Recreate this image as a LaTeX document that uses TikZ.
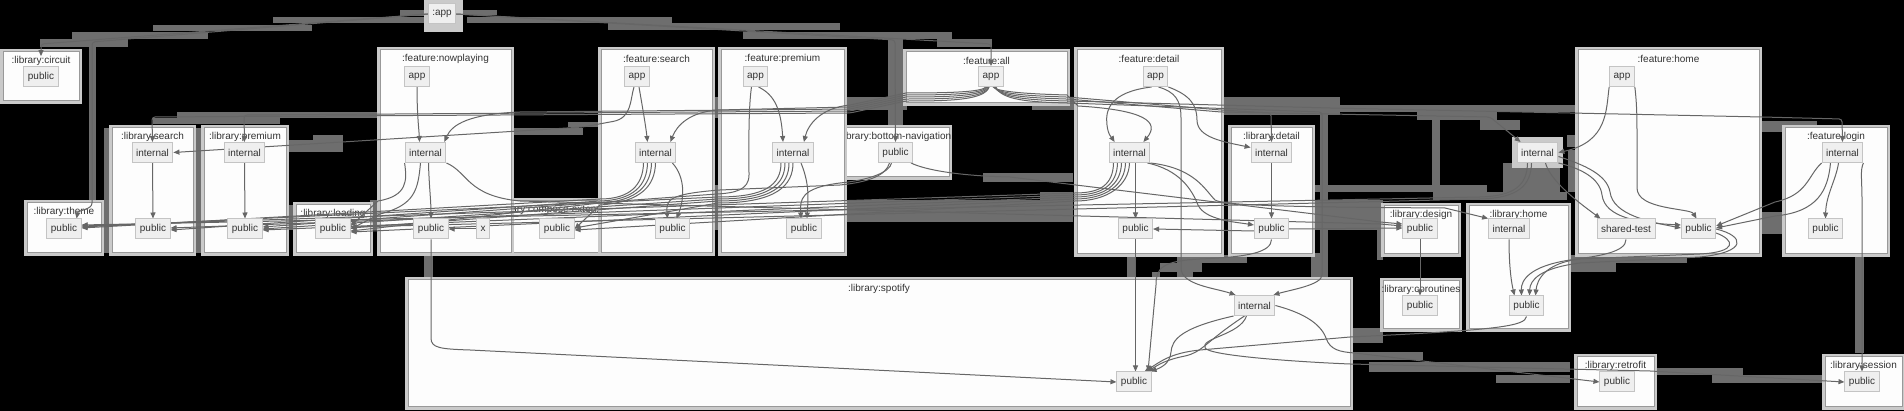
\documentclass[tikz,border=0pt]{standalone}
\usepackage{fontspec}
\setmainfont{Liberation Sans}
\usetikzlibrary{arrows.meta}
\definecolor{clfill}{HTML}{FDFDFD}
\definecolor{cldraw}{HTML}{999999}
\definecolor{clout}{HTML}{CACACA}
\definecolor{ndfill}{HTML}{EFEFEF}
\definecolor{nddraw}{HTML}{C4C4C4}
\definecolor{txt}{HTML}{333333}
\definecolor{edg}{HTML}{666666}
\definecolor{bandc}{HTML}{6E6E6E}
\pgfdeclarelayer{back}
\pgfdeclarelayer{mid}
\pgfsetlayers{back,mid,main}
\tikzset{
 nd/.style={draw=nddraw, fill=ndfill, text=txt, minimum height=20pt, inner xsep=4pt, inner ysep=0pt, line width=1pt},
 ct/.style={text=txt, inner sep=0pt},
 e/.style={draw=edg, line width=1pt, -{Triangle[length=6pt,width=5pt]}},
 clus/.style={fill=clfill, draw=cldraw, line width=1pt},
 band/.style={fill=bandc},
}
\newcommand\mkclus[6]{%
 \fill[clout] ({#2-3},{#3-3}) rectangle ({#4+3},{#5+3});
 \filldraw[clus] (#2,#3) rectangle (#4,#5);
 \node[ct] (#1) at ({(#2+#4)/2},{#3+9}) {#6};
}
\begin{document}
\begin{tikzpicture}[x=1pt,y=-1pt,font=\fontsize{10}{12}\selectfont]
\useasboundingbox (0,0) rectangle (1904,411);
\begin{pgfonlayer}{back}
\fill[black] (0,0) rectangle (1904,411);
% ---- bands (label backgrounds)
\foreach \a/\b/\c/\d in {400/10/428/16, 273/17/427/23, 153/25/312/31, 72/32/208/39, 40/39/128/47, 89/40/96/203,
 457/10/497/15, 467/17/672/23, 608/23/840/30, 743/32/952/39, 937/39/992/47, 888/39/903/128,
 177/112/377/118, 153/118/280/124, 287/140/343/152, 313/135/343/140, 510/128/583/135, 568/122/605/127,
 104/128/112/253, 193/128/202/253, 287/205/296/230, 370/200/380/230, 712/97/721/118, 712/185/721/230,
 840/97/907/110, 1032/97/1077/110, 840/200/1073/222, 983/173/1073/182, 1040/192/1073/200,
 1223/97/1340/115, 1300/105/1577/112, 1417/112/1497/120, 1480/120/1520/130, 1320/100/1328/260,
 1432/120/1440/190, 1313/185/1487/192, 1433/192/1567/200, 1503/163/1560/193, 1567/135/1578/147,
 1300/200/1383/230, 1377/200/1383/260, 1855/253/1864/353, 1568/255/1687/263, 1568/263/1616/272,
 1352/328/1383/343, 1352/352/1423/360, 1369/362/1570/372, 1496/375/1570/383, 1654/368/1743/375,
 1712/375/1824/383, 1127/253/1135/280, 1152/272/1160/280, 1160/263/1202/272, 1177/253/1193/280,
 1185/255/1247/263, 1311/253/1328/280, 424/253/433/280, 1762/212/1784/234, 1762/121/1817/132,
 1802/132/1846/139, 1568/150/1579/192}
 {\fill[band] (\a,\b) rectangle (\c,\d);}
% ---- clusters
\mkclus{tcirc}{3}{52}{79}{101}{:library:circuit}
\mkclus{tcomp}{440}{201}{675}{253}{:library:compose-extensions}
\mkclus{tbn}{841}{128}{949}{177}{:library:bottom-navigation}
\mkclus{ttheme}{27}{203}{101}{253}{:library:theme}
\mkclus{tlsearch}{112}{128}{193}{253}{:library:search}
\mkclus{tlprem}{204}{128}{286}{253}{:library:premium}
\mkclus{tload}{296}{205}{370}{253}{:library:loading}
\mkclus{tnp}{380}{50}{511}{253}{:feature:nowplaying}
\mkclus{tfs}{601}{50}{712}{253}{:feature:search}
\mkclus{tfp}{721}{50}{844}{253}{:feature:premium}
\mkclus{tfa}{906}{52}{1067}{103}{:feature:all}
\mkclus{tfd}{1077}{50}{1221}{254}{:feature:detail}
\mkclus{tld}{1231}{128}{1312}{254}{:library:detail}
\mkclus{tsp}{408}{280}{1350}{407}{:library:spotify}
\mkclus{tdes}{1384}{206}{1458}{254}{:library:design}
\mkclus{tcor}{1383}{281}{1459}{329}{:library:coroutines}
\mkclus{thome}{1469}{206}{1568}{329}{:library:home}
\mkclus{tfh}{1578}{50}{1759}{254}{:feature:home}
\mkclus{tlog}{1785}{128}{1887}{254}{:feature:login}
\mkclus{tretro}{1577}{357}{1654}{407}{:library:retrofit}
\mkclus{tsess}{1825}{357}{1902}{407}{:library:session}
\fill[clout] (424,0) rectangle (463,32);
\fill[clout] (1512,137) rectangle (1563,168);
\end{pgfonlayer}
% ---- nodes
\begin{scope}[every node/.style={nd}]
\node (app0) at (442,14) {:app};
\node (cpub) at (41,77) {public};
\node (thpub) at (64,229) {public};
\node (lsi) at (152.5,152.5) {internal};
\node (lsp) at (153,229) {public};
\node (lpi) at (244.5,152.5) {internal};
\node (lpp) at (245,229) {public};
\node (ldgp) at (333,229) {public};
\node (npa) at (417,76.5) {app};
\node (npi) at (425.5,152.5) {internal};
\node (npp) at (431,229) {public};
\node (xn) at (483,229) {x};
\node (cxp) at (557,229) {public};
\node (fsa) at (637,76.5) {app};
\node (fsi) at (655.5,152.5) {internal};
\node (fsp) at (672.5,229) {public};
\node (fpa) at (755.5,76.5) {app};
\node (fpi) at (793,152.5) {internal};
\node (fpp) at (804,229) {public};
\node (bnp) at (895.5,152.5) {public};
\node (faa) at (991,76.5) {app};
\node (fda) at (1155.5,76.5) {app};
\node (fdi) at (1129.5,152.5) {internal};
\node (fdp) at (1135.5,229) {public};
\node (ldi) at (1271.5,152.5) {internal};
\node (ldp) at (1271.5,229) {public};
\node (spi) at (1254.5,305.5) {internal};
\node (spp) at (1134,382) {public};
\node (dsp) at (1420,229) {public};
\node (crp) at (1420,306) {public};
\node (hmi) at (1509,229) {internal};
\node (hmp) at (1526.5,306) {public};
\node (xi) at (1537.5,152.5) {internal};
\node (fha) at (1622,76.5) {app};
\node (sht) at (1626,229) {shared-test};
\node (fhp) at (1698.5,229) {public};
\node (lgi) at (1842.5,152.5) {internal};
\node (lgp) at (1825.5,229) {public};
\node (rfp) at (1617,382) {public};
\node (ssp) at (1862,382) {public};
\end{scope}
% ---- edges
\begin{pgfonlayer}{mid}
\draw[e, rounded corners=3pt] (app0.west) -- (41,44) -- (tcirc.north);
\draw[e, rounded corners=3pt] (app0.west) -- (92,42) -- (92,200) .. controls (92,210) and (78,210) .. ([xshift=-5pt]thpub.north east);
\draw[e, rounded corners=3pt] (app0.east) -- (991,44) -- (faa.north);
\draw[e, rounded corners=3pt] (app0.east) -- (895,40) -- (bnp.north);
% feature:all left fan
\draw[e, rounded corners=3pt] ([xshift=-2pt]faa.south) .. controls (985,100) and (950,101) .. (906,101) -- (850,113) -- (152,117) -- (lsi.north);
\draw[e, rounded corners=3pt] ([xshift=-2pt]faa.south) .. controls (985,98) and (950,99) .. (906,99) -- (850,111) -- (244,115) -- (lpi.north);
\draw[e] ([xshift=-3pt]faa.south) .. controls (984,96) and (950,97) .. (906,97) -- (850,109) -- (520,112) .. controls (470,114) and (452,124) .. ([xshift=-2pt]npi.north east);
\draw[e] ([xshift=-4pt]faa.south) .. controls (983,94) and (950,95) .. (906,95) -- (850,107) -- (718,110) .. controls (690,112) and (677,125) .. ([xshift=-6pt]fsi.north east);
\draw[e] ([xshift=-5pt]faa.south) .. controls (982,92) and (950,93) .. (906,93) -- (850,105) .. controls (820,108) and (808,125) .. ([xshift=-10pt]fpi.north east);
% feature:all right fan
\draw[e] ([xshift=2pt]faa.south) .. controls (997,92) and (1030,94) .. (1067,95) -- (1078,106) .. controls (1145,110) and (1160,122) .. ([xshift=-7pt]fdi.north east);
\draw[e, rounded corners=3pt] ([xshift=3pt]faa.south) .. controls (998,94) and (1030,96) .. (1067,97) -- (1221,110) -- (1271,113) -- (ldi.north);
\draw[e, rounded corners=3pt] ([xshift=3pt]faa.south) .. controls (999,96) and (1030,98) .. (1067,99) -- (1221,112) -- (1490,117) -- ([xshift=4pt]xi.north west);
\draw[e, rounded corners=3pt] ([xshift=4pt]faa.south) .. controls (1000,98) and (1030,100) .. (1067,101) -- (1330,108) -- (1762,117) -- (1842,119) -- (lgi.north);
\draw[e, rounded corners=3pt] ([xshift=5pt]faa.south) .. controls (1001,100) and (1030,102) .. (1067,103) -- (1322,112) -- (1322,272) .. controls (1322,285) and (1290,290) .. ([xshift=-2pt]spi.north east);
% feature:detail app
\draw[e] ([xshift=-4pt]fda.south) .. controls (1110,92) and (1105,110) .. (1107,125) .. controls (1108,135) and (1112,138) .. ([xshift=6pt]fdi.north west);
\draw[e] ([xshift=3pt]fda.south) .. controls (1175,92) and (1181,100) .. (1181,118) -- (1181,268) .. controls (1181,285) and (1215,288) .. ([xshift=2pt]spi.north west);
\draw[e] (fda.south east) .. controls (1190,95) and (1197,105) .. (1197,120) .. controls (1197,138) and (1225,142) .. ([yshift=5pt]ldi.west);
% app -> internal inside features
\draw[e] (npa.south) .. controls (417,115) and (419,130) .. ([xshift=-6pt]npi.north);
\draw[e] ([xshift=2pt]fsa.south) .. controls (643,110) and (646,128) .. ([xshift=-8pt]fsi.north);
\draw[e, rounded corners=3pt] ([xshift=-3pt]fsa.south) .. controls (630,100) and (632,118) .. (610,122) -- (583,127) -- (lsi.east);
\draw[e] ([xshift=3pt]fpa.south) .. controls (775,95) and (781,110) .. ([xshift=-10pt]fpi.north);
\draw[e] ([xshift=-4pt]fpa.south) .. controls (748,110) and (749,160) .. (749,175) .. controls (749,190) and (735,193) .. (717,194) -- ([yshift=2pt]lpp.east);
% nowplaying internal
\draw[e] (npi.south west) .. controls (407,180) and (408,196) .. (378,201) -- ([yshift=3pt]ldgp.east);
\draw[e] ([xshift=-5pt]npi.south) .. controls (418,190) and (415,205) .. (380,214) -- ([yshift=0pt]ldgp.east);
\draw[e] ([xshift=3pt]npi.south) .. controls (429,185) and (431,200) .. (npp.north);
\draw[e] (npi.south east) .. controls (468,172) and (467,196) .. (520,201) -- (1380,224) -- ([yshift=3pt]dsp.west);
% search internal
\draw[e] ([xshift=-12pt]fsi.south) .. controls (643,185) and (630,199) .. (600,199) -- ([yshift=1pt]thpub.east);
\draw[e] ([xshift=-8pt]fsi.south) .. controls (647,185) and (634,200) .. (600,201) -- ([yshift=-1pt]lsp.east);
\draw[e] ([xshift=-4pt]fsi.south) .. controls (651,185) and (638,201) .. (600,203) -- ([yshift=-2pt]ldgp.east);
\draw[e] (fsi.south) .. controls (655,185) and (642,202) .. (600,205) -- (cxp.east);
\draw[e] ([xshift=-4pt]fsi.south east) .. controls (686,178) and (684,200) .. ([xshift=4pt]fsp.north);
% premium internal
\draw[e] ([xshift=-12pt]fpi.south) .. controls (781,185) and (765,197) .. (718,197) -- ([yshift=2pt]thpub.east);
\draw[e] ([xshift=-8pt]fpi.south) .. controls (785,185) and (769,199) .. (718,199) -- (lpp.east);
\draw[e] ([xshift=-4pt]fpi.south) .. controls (789,185) and (773,201) .. (718,201) -- ([yshift=1pt]ldgp.east);
\draw[e] (fpi.south) .. controls (793,185) and (777,203) .. (718,203) -- ([yshift=1pt]cxp.east);
\draw[e] ([xshift=8pt]fpi.south) .. controls (810,185) and (808,200) .. ([xshift=3pt]fpp.north);
% bottom navigation
\draw[e] ([xshift=-4pt]bnp.south) .. controls (890,172) and (870,180) .. (840,183) .. controls (800,188) and (800,200) .. ([xshift=-3pt]fpp.north);
\draw[e] ([xshift=-6pt]bnp.south) .. controls (886,175) and (870,182) .. (840,185) -- (720,190) .. controls (668,194) and (666,200) .. ([xshift=-5pt]fsp.north);
\draw[e] ([xshift=-2pt]bnp.south east) .. controls (925,170) and (960,176) .. (1010,177) -- (1380,222) -- ([yshift=5pt]dsp.west);
% detail internal
\draw[e] ([xshift=-16pt]fdi.south) .. controls (1113,185) and (1100,193) .. (1075,193) -- ([yshift=3pt]thpub.east);
\draw[e] ([xshift=-12pt]fdi.south) .. controls (1117,185) and (1102,195) .. (1075,195) -- ([yshift=1pt]lsp.east);
\draw[e] ([xshift=-8pt]fdi.south) .. controls (1121,185) and (1104,197) .. (1075,197) -- ([yshift=-1pt]lpp.east);
\draw[e] ([xshift=-4pt]fdi.south) .. controls (1125,185) and (1106,199) .. (1075,199) -- ([yshift=-3pt]ldgp.east);
\draw[e] (fdi.south) .. controls (1129,185) and (1108,201) .. (1075,201) -- ([yshift=-1pt]cxp.east);
\draw[e] ([xshift=6pt]fdi.south) -- (fdp.north);
\draw[e] ([xshift=-3pt]fdi.south east) .. controls (1180,170) and (1192,190) .. (1198,205) .. controls (1205,220) and (1235,222) .. ([yshift=4pt]ldp.west);
\draw[e] (fdi.south east) .. controls (1195,168) and (1205,190) .. (1215,200) .. controls (1225,206) and (1300,207) .. (1445,208) -- (hmi.north west);
% library detail
\draw[e] (ldi.south) -- (ldp.north);
\draw[e] ([yshift=-2pt]ldp.west) -- (fdp.east);
\draw[e] (ldp.east) -- ([yshift=1pt]dsp.west);
\draw[e] (ldp.south) .. controls (1271,252) and (1250,257) .. (1200,259) .. controls (1162,261) and (1156,268) .. (1156,285) -- ([xshift=14pt]spp.north);
\draw[e] (fdp.south) -- ([xshift=1.5pt]spp.north);
\draw[e] (npp.south) -- (431,338) .. controls (431,348) and (440,349) .. (470,350) -- (spp.west);
% spotify
\draw[e] (spi.south west) .. controls (1180,328) and (1172,340) .. (1171,352) .. controls (1170,364) and (1160,368) .. ([xshift=-1pt]spp.north east);
\draw[e] ([xshift=-10pt]spi.south) .. controls (1205,342) and (1203,352) .. (1185,356) .. controls (1165,360) and (1158,365) .. ([xshift=-4pt]spp.north east);
\draw[e] (hmp.south) .. controls (1525,326) and (1500,330) .. (1350,337) -- (1200,350) .. controls (1170,353) and (1160,362) .. ([xshift=-7pt]spp.north east);
\draw[e] (spi.east) .. controls (1300,312) and (1320,322) .. (1326,338) .. controls (1330,350) and (1340,352) .. (1355,353) -- (rfp.west);
\draw[e] ([xshift=-8pt]spi.south) .. controls (1240,335) and (1200,338) .. (1205,348) .. controls (1210,356) and (1300,362) .. (1350,364) -- (1650,371) -- (ssp.west);
% design / home
\draw[e] (dsp.south) -- (crp.north);
\draw[e] (hmi.south) .. controls (1509,270) and (1512,285) .. ([xshift=-12pt]hmp.north);
\draw[e] (sht.south) .. controls (1626,252) and (1600,256) .. (1570,260) .. controls (1530,266) and (1521,280) .. ([xshift=-5pt]hmp.north);
\draw[e] (fhp.east) .. controls (1745,236) and (1748,252) .. (1700,257) -- (1580,263) .. controls (1540,268) and (1530,280) .. ([xshift=3pt]hmp.north);
\draw[e] ([yshift=-4pt]fhp.east) .. controls (1735,240) and (1738,252) .. (1700,254) -- (1580,259) .. controls (1545,263) and (1537,280) .. ([xshift=9pt]hmp.north);
% standalone internal
\draw[e] (xi.south east) .. controls (1580,168) and (1600,178) .. (1602,195) .. controls (1605,218) and (1640,223) .. ([yshift=4pt]fhp.west);
\draw[e] ([yshift=-4pt]xi.east) .. controls (1585,165) and (1607,175) .. (1610,192) .. controls (1613,215) and (1650,222) .. ([yshift=1pt]fhp.west);
\draw[e] ([xshift=8pt]xi.south) .. controls (1550,180) and (1575,200) .. ([xshift=4pt]sht.north west);
\draw[e] ([xshift=-10pt]xi.south) .. controls (1527,185) and (1515,196) .. (1480,197) -- ([yshift=4pt]thpub.east);
\draw[e] ([xshift=-6pt]xi.south) .. controls (1531,185) and (1519,198) .. (1480,199) -- ([yshift=2pt]ldgp.east);
% feature home
\draw[e] (fha.south west) .. controls (1606,110) and (1608,142) .. (xi.east);
\draw[e] (fha.south east) .. controls (1637,105) and (1637,120) .. (1637,140) -- (1637,188) .. controls (1637,210) and (1690,208) .. ([xshift=-2pt]fhp.north);
% login
\draw[e] (lgi.south west) .. controls (1808,175) and (1808,195) .. (1775,202) -- ([yshift=3pt]fhp.east);
\draw[e] ([xshift=-12pt]lgi.south) .. controls (1828,190) and (1818,212) .. (1775,216) -- ([yshift=1pt]fhp.east);
\draw[e] ([xshift=-4pt]lgi.south) .. controls (1836,180) and (1826,195) .. (lgp.north);
\draw[e] (lgi.south east) .. controls (1860,170) and (1862,180) .. (1862,200) -- (ssp.north);
% misc
\draw[e] (xn.west) -- (npp.east);
\draw[e] (lsi.south) -- (lsp.north);
\draw[e] (lpi.south) -- (lpp.north);
\end{pgfonlayer}
\end{tikzpicture}
\end{document}
